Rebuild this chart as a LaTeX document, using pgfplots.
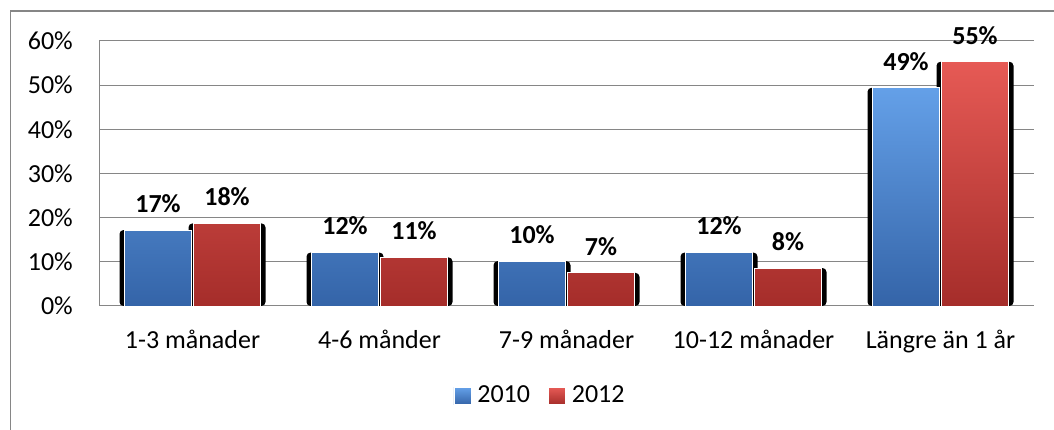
\documentclass[border=0pt]{standalone}
\usepackage{pgfplots}
\pgfplotsset{compat=1.18}
\usepackage{fontspec}
\setmainfont{Carlito}
\definecolor{bluetop}{RGB}{100,160,232}
\definecolor{bluemid}{RGB}{65,125,200}
\definecolor{bluebot}{RGB}{52,100,168}
\definecolor{redtop}{RGB}{230,90,85}
\definecolor{redmid}{RGB}{200,62,58}
\definecolor{redbot}{RGB}{165,45,42}
\definecolor{gridgray}{RGB}{134,134,134}
\begin{document}
\fontsize{26}{31}\selectfont
\begin{tikzpicture}[x=1pt,y=1pt]
\useasboundingbox (0,0) rectangle (1054,430);
\draw[gridgray, line width=1.2pt] (10.5,0) -- (10.5,419) -- (1054,419);
\begin{axis}[
  at={(99pt,124pt)}, anchor=south west,
  width=935pt, height=265pt, scale only axis,
  xmin=-0.5, xmax=4.5, ymin=0, ymax=60,
  clip=false,
  ybar=2pt,
  xtick={0,...,4},
  xticklabels={1-3 månader,4-6 månder,7-9 månader,10-12 månader,Längre än 1 år},
  ytick={0,10,...,60},
  yticklabel={\pgfmathprintnumber{\tick}\%},
  /pgf/number format/assume math mode=true,
  major tick length=0pt,
  tick style={draw=none},
  ymajorgrids,
  major grid style={gridgray, line width=1pt},
  axis lines*=left,
  axis line style={-, gridgray, line width=1pt},
  every tick label/.append style={font=\fontsize{26}{31}\selectfont},
  yticklabel style={anchor=east, inner sep=0pt, xshift=-26pt},
  xticklabel style={anchor=north, inner sep=0pt, yshift=-24pt},
  legend style={at={(0.4717,-0.3396)}, anchor=center, draw=none, fill=none,
    legend columns=2, font=\fontsize{26}{31}\selectfont,
    /tikz/every odd column/.append style={column sep=4pt},
    /tikz/every even column/.append style={column sep=16pt}},
  legend image code/.code={\draw[#1,draw=white] (0pt,-8.5pt) rectangle (17pt,8.5pt);},
  point meta=explicit symbolic,
  nodes near coords={\pgfplotspointmeta\%},
  nodes near coords style={font=\bfseries\fontsize{26}{31}\selectfont, anchor=south, inner sep=0pt, yshift=17pt, text=black},
]
\addplot[bar width=77pt, bar shift=-34.5pt, fill=black, draw=none, rounded corners=4pt, forget plot, nodes near coords={}] coordinates {(0,17.2) [] (1,12.1) [] (2,10.15) [] (3,12.1) [] (4,49.4) []};
\addplot[bar width=77pt, bar shift=34.5pt, fill=black, draw=none, rounded corners=4pt, forget plot, nodes near coords={}] coordinates {(0,18.7) [] (1,11.0) [] (2,7.5) [] (3,8.6) [] (4,55.3) []};
\addplot[bar width=67pt, bar shift=-34.5pt, top color=bluetop, middle color=bluemid, bottom color=bluebot, draw=white, line width=0.8pt] coordinates {(0,17.2) [17] (1,12.1) [12] (2,10.15) [10] (3,12.1) [12] (4,49.4) [49]};
\addplot[bar width=67pt, bar shift=34.5pt, top color=redtop, middle color=redmid, bottom color=redbot, draw=white, line width=0.8pt] coordinates {(0,18.7) [18] (1,11.0) [11] (2,7.5) [7] (3,8.6) [8] (4,55.3) [55]};
\legend{2010,2012}
\end{axis}
\end{tikzpicture}
\end{document}
